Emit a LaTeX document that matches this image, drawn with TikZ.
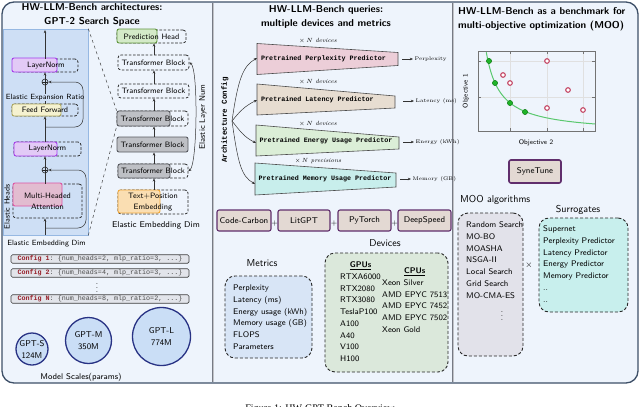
\documentclass[tikz,border=0pt]{standalone}
\usepackage{fontspec}
\setmonofont{Liberation Mono}
\newfontfamily\capfont{Liberation Serif}
\usetikzlibrary{arrows.meta}

% colours
\definecolor{panelbg}{RGB}{238,244,252}
\definecolor{framecol}{RGB}{62,80,104}
\definecolor{splitcol}{RGB}{118,122,132}
\definecolor{archbg}{RGB}{206,223,245}
\definecolor{archline}{RGB}{150,184,226}
\definecolor{lnline}{RGB}{165,60,235}
\definecolor{lnfill}{RGB}{226,202,246}
\definecolor{ffline}{RGB}{172,166,92}
\definecolor{fffill}{RGB}{245,242,208}
\definecolor{mhaline}{RGB}{222,84,164}
\definecolor{mhafill}{RGB}{226,188,208}
\definecolor{headline}{RGB}{96,150,62}
\definecolor{headfill}{RGB}{212,234,200}
\definecolor{tbline}{RGB}{88,90,96}
\definecolor{tbfill}{RGB}{190,192,197}
\definecolor{embline}{RGB}{240,168,58}
\definecolor{embfill}{RGB}{250,222,178}
\definecolor{cfgfill}{RGB}{226,228,234}
\definecolor{cfgred}{RGB}{150,30,40}
\definecolor{scaleline}{RGB}{40,50,132}
\definecolor{scalefill}{RGB}{202,222,246}
\definecolor{pplfill}{RGB}{236,206,216}
\definecolor{latfill}{RGB}{231,221,209}
\definecolor{engfill}{RGB}{219,238,215}
\definecolor{memfill}{RGB}{200,238,236}
\definecolor{toolline}{RGB}{96,46,108}
\definecolor{toolfill}{RGB}{227,217,211}
\definecolor{metfill}{RGB}{216,229,246}
\definecolor{devfill}{RGB}{219,232,219}
\definecolor{moofill}{RGB}{226,226,234}
\definecolor{surfill}{RGB}{200,239,237}
\definecolor{paretogreen}{RGB}{30,180,40}
\definecolor{curvegreen}{RGB}{90,200,110}
\definecolor{ringred}{RGB}{196,70,100}

\begin{document}
\begin{tikzpicture}[x=1pt, y=-1pt,
		every node/.style={inner sep=0pt, font=\sffamily\fontsize{7.8}{9.4}\selectfont},
		flow/.style={-{Stealth[length=3.2pt,width=2.6pt]}, line width=0.5pt, draw=black!80},
		elastic/.style={draw=black!85, line width=0.75pt, dash pattern=on 2.6pt off 1.6pt, rounded corners=3pt},
		solidbox/.style={line width=0.9pt, rounded corners=2pt},
		addnode/.style={circle, draw=black!85, fill=archbg, line width=0.6pt, minimum size=6pt,
			path picture={\draw[line width=0.5pt] (path picture bounding box.north) -- (path picture bounding box.south)
				(path picture bounding box.west) -- (path picture bounding box.east);}},
		paneltitle/.style={font=\sffamily\bfseries\fontsize{10}{14}\selectfont, align=center},
		smalltxt/.style={font=\sffamily\fontsize{7.5}{9}\selectfont},
		headtxt/.style={font=\sffamily\fontsize{10}{12}\selectfont},
		listtext/.style={font=\sffamily\fontsize{8.2}{11.7}\selectfont},
		cfgline/.style={draw=black!75, fill=cfgfill, line width=0.7pt, rounded corners=1.5pt, minimum width=178pt,
			minimum height=8.5pt, text=black!70, font=\ttfamily\fontsize{6.7}{8}\selectfont},
		sizecircle/.style={circle, draw=scaleline, fill=scalefill, line width=1.3pt, align=center,
			font=\sffamily\fontsize{8.5}{12}\selectfont},
		predictor/.style={draw=black!70, line width=0.6pt},
		predtxt/.style={anchor=west, font=\ttfamily\bfseries\fontsize{6.7}{8}\selectfont},
		devtxt/.style={font=\rmfamily\itshape\fontsize{6}{7}\selectfont},
		outtxt/.style={anchor=west, inner sep=1.5pt, font=\rmfamily\fontsize{5.2}{6.2}\selectfont},
		toolbox/.style={draw=toolline, fill=toolfill, line width=1.1pt, rounded corners=2pt, minimum height=21pt,
			font=\sffamily\fontsize{8.4}{10}\selectfont},
		listbox/.style={draw=black!85, line width=0.9pt, dash pattern=on 3pt off 2pt, rounded corners=10pt}
		]
		\path[use as bounding box] (0,0) rectangle (640,407);
		\clip (0,0) rectangle (640,407);
		% frame and panel splits
		\draw[draw=framecol, fill=panelbg, line width=1.3pt, rounded corners=12pt] (2,2) rectangle (638,383);
		\draw[draw=splitcol, double=splitcol!45, double distance=0.9pt, line width=0.7pt] (213,2.6) -- (213,382.4);
		\draw[draw=splitcol, double=splitcol!45, double distance=0.9pt, line width=0.7pt] (453,2.6) -- (453,382.4);
		
		% ---------------- architectures ----------------
		\node[paneltitle] (archtitle) at (92,15) {HW-LLM-Bench architectures:\\GPT-2 Search Space};
		\node[fill=archbg, draw=archline, line width=0.6pt, minimum width=85, minimum height=206] (archzoom) at (45.5,132) {};
		% inside one block
		\node[elastic, minimum width=64, minimum height=13] (ln1e) at (46,65.5) {};
		\node[solidbox, draw=lnline, fill=lnfill, minimum width=45, minimum height=14] (ln1) at (34.5,65) {};
		\node (ln1t) at (ln1e) {LayerNorm};
		\node[addnode] (add1) at (45,82) {};
		\node[elastic, minimum width=66, minimum height=12] (ffe) at (45,110) {};
		\node[solidbox, draw=ffline, fill=fffill, minimum width=49, minimum height=12] (ff) at (36.5,110) {};
		\node (fft) at (ffe) {Feed Forward};
		\node[elastic, minimum width=67, minimum height=14] (ln2e) at (47.5,149) {};
		\node[solidbox, draw=lnline, fill=lnfill, minimum width=43, minimum height=14] (ln2) at (35.5,149) {};
		\node (ln2t) at (ln2e) {LayerNorm};
		\node[addnode] (add2) at (45,170) {};
		\node[elastic, minimum width=69, minimum height=34] (mhae) at (47.5,201) {};
		\node[solidbox, draw=mhaline, fill=mhafill, minimum width=49, minimum height=23] (mha) at (37.5,194.5) {};
		\node[align=center, font=\sffamily\fontsize{7.8}{11}\selectfont] (mhat) at (mhae) {Multi-Headed\\Attention};
		\node[smalltxt, rotate=90] (headslbl) at (7,207) {Elastic Heads};
		\coordinate (archin) at (45,235);
		\coordinate (archout) at (45,30);
		\coordinate (res1) at (45,127);
		\coordinate (res2) at (45,228);
		\draw[flow] (archin) -- (archin |- mhae.south);
		\draw[line width=0.5pt, black!80] (add2 |- mhae.north) -- (add2);
		\draw[flow] (add2) -- (add2 |- ln2e.south);
		\draw[flow] (add2 |- ln2e.north) -- (add2 |- ffe.south);
		\draw[line width=0.5pt, black!80] (add1 |- ffe.north) -- (add1);
		\node[smalltxt, fill=archbg, inner sep=0.6pt] (ratiolbl) at (45,97.5) {Elastic Expansion Ratio};
		\draw[flow] (add1) -- (add1 |- ln1e.south);
		\draw[flow] (add1 |- ln1e.north) -- (archout);
		\draw[flow, rounded corners=8pt] (res1) -- ++(38,0) |- (add1.east);
		\draw[flow, rounded corners=8pt] (res2) -- ++(41,0) |- (add2.east);
		\node[smalltxt] (embdimleft) at (46.5,244) {Elastic Embedding Dim};
		
		% stack of blocks
		\node[elastic, minimum width=69, minimum height=13] (heade) at (151.5,36.5) {};
		\node[solidbox, draw=headline, fill=headfill, minimum width=40, minimum height=14] (head) at (137,36) {};
		\node (headt) at (heade) {Prediction Head};
		\node[elastic, minimum width=71, minimum height=15] (tb1e) at (153.5,62.5) {Transformer Block};
		\node[elastic, minimum width=71, minimum height=14] (tb2e) at (153.5,91) {Transformer Block};
		\node[elastic, minimum width=71, minimum height=15] (tb3e) at (152.5,118.5) {};
		\node[solidbox, draw=tbline, fill=tbfill, minimum width=53, minimum height=15] (tb3) at (143.5,118.5) {};
		\node (tb3t) at (tb3e) {Transformer Block};
		\node[solidbox, draw=tbline, fill=tbfill, minimum width=71, minimum height=15] (tb4) at (152.5,144.5) {Transformer Block};
		\node[elastic, minimum width=70, minimum height=14] (tb5e) at (153,171) {};
		\node[solidbox, draw=tbline, fill=tbfill, minimum width=52, minimum height=14] (tb5) at (144,171) {};
		\node (tb5t) at (tb5e) {Transformer Block};
		\node[elastic, minimum width=70, minimum height=24] (embe) at (153,202) {};
		\node[solidbox, draw=embline, fill=embfill, minimum width=42, minimum height=23] (emb) at (139,201.5) {};
		\node[align=center, font=\sffamily\fontsize{7.8}{11}\selectfont] (embt) at (embe) {Text+Position\\Embedding};
		\node[font=\sffamily\fontsize{8.4}{10}\selectfont] (embdim) at (156,225) {Elastic Embedding Dim};
		\node[font=\sffamily\fontsize{8}{10}\selectfont, rotate=90] (layerlbl) at (203,117) {Elastic Layer Num};
		\coordinate (spine) at (154,0);
		\draw[flow] (embe.north -| spine) -- (spine |- tb5e.south);
		\draw[flow] (tb5e.north -| spine) -- (spine |- tb4.south);
		\draw[flow] (tb4.north -| spine) -- (spine |- tb3e.south);
		\draw[flow] (tb3e.north -| spine) -- (spine |- tb2e.south);
		\draw[flow] (tb2e.north -| spine) -- (spine |- tb1e.south);
		\draw[flow] (tb1e.north -| spine) -- (spine |- heade.south);
		\draw[{Stealth[length=3pt,width=2.6pt]}-{Stealth[length=3pt,width=2.6pt]}, line width=0.5pt, black!80]
			(tb1e.east) .. controls +(9,6) and +(9,-6) .. (tb5e.east);
		% zoom lines
		\draw[dashed, line width=0.5pt, black!75] (archzoom.north east) -- (tb3e.north west);
		\draw[dashed, line width=0.5pt, black!75] (archzoom.south east) -- (tb3e.south west);
		
		% configs
		\node[cfgline] (cfg1) at (100,259) {{\bfseries\color{cfgred}Config 1}: \{num\_heads=2, mlp\_ratio=3, ...\}};
		\node[cfgline] (cfg2) at (100,273) {{\bfseries\color{cfgred}Config 2}: \{num\_heads=4, mlp\_ratio=3, ...\}};
		\node (cfgdots) at (97,285) {$\vdots$};
		\node[cfgline] (cfgn) at (100,299) {{\bfseries\color{cfgred}Config N}: \{num\_heads=8, mlp\_ratio=2, ...\}};
		
		% model scales
		\node[sizecircle, minimum size=32] (gpts) at (32,349) {GPT-S\\124M};
		\node[sizecircle, minimum size=46] (gptm) at (88.5,340.5) {GPT-M\\350M};
		\node[sizecircle, minimum size=58] (gptl) at (161.5,336.5) {GPT-L\\774M};
		\node[font=\sffamily\fontsize{8.3}{10}\selectfont] (scalelbl) at (81,377) {Model Scales(params)};
		
		% ---------------- queries ----------------
		\node[paneltitle] (querytitle) at (326,17) {HW-LLM-Bench queries:\\multiple devices and metrics};
		\node[rotate=90, font=\ttfamily\bfseries\fontsize{7.5}{9}\selectfont] (cfglbl) at (225,120) {Architecture Config};
		\coordinate (cfgsrc) at (232,121);
		% Perplexity
		\draw[predictor, fill=pplfill] (257,43.5) -- (398,52.5) -- (398,65.5) -- (257,74.5) -- cycle;
		\node[predtxt] (pplt) at (261,59) {Pretrained Perplexity Predictor};
		\node[devtxt] (pplx) at (318,41) {$\times\,N$ devices};
		\coordinate (pplin) at (257,58);
		\coordinate (pplout) at (402,59);
		\node[outtxt] (pplres) at (413,59) {Perplexity};
		% Latency
		\draw[predictor, fill=latfill] (257,84) -- (395,96) -- (395,108) -- (257,115) -- cycle;
		\node[predtxt] (latt) at (261,99.5) {Pretrained Latency Predictor};
		\node[devtxt] (latx) at (318,82) {$\times\,N$ devices};
		\coordinate (latin) at (257,100);
		\coordinate (latout) at (403,101);
		\node[outtxt] (latres) at (414,101) {Latency (ms)};
		% Energy
		\draw[predictor, fill=engfill] (256,125) -- (399,137) -- (399,149) -- (256,156) -- cycle;
		\node[predtxt] (engt) at (259.5,140.5) {Pretrained Energy Usage Predictor};
		\node[devtxt] (engx) at (318,124) {$\times\,N$ devices};
		\coordinate (engin) at (256,143);
		\coordinate (engout) at (403,142);
		\node[outtxt] (engres) at (414,142) {Energy (kWh)};
		% Memory
		\draw[predictor, fill=memfill] (255,163) -- (396,173) -- (396,187) -- (255,195) -- cycle;
		\node[predtxt] (memt) at (258.5,179) {Pretrained Memory Usage Predictor};
		\node[devtxt] (memx) at (318,161) {$\times\,N$ precisions};
		\coordinate (memin) at (255,184);
		\coordinate (memout) at (400,179);
		\node[outtxt] (memres) at (411,179) {Memory (GB)};
		\draw[flow] (cfgsrc) .. controls +(6,-42) and +(-14,8) .. (pplin);
		\draw[flow] (cfgsrc) .. controls +(8,-10) and +(-12,6) .. (latin);
		\draw[flow] (cfgsrc) .. controls +(8,10) and +(-12,-6) .. (engin);
		\draw[flow] (cfgsrc) .. controls +(6,42) and +(-14,-8) .. (memin);
		\draw[flow] (pplout) -- (pplres.west);
		\draw[flow] (latout) -- (latres.west);
		\draw[flow] (engout) -- (engres.west);
		\draw[flow] (memout) -- (memres.west);
		
		% tools
		\node[toolbox, minimum width=54] (codecarbon) at (244,220.5) {Code-Carbon};
		\node[toolbox, minimum width=52] (litgpt) at (304,220.5) {LitGPT};
		\node[toolbox, minimum width=53] (pytorch) at (364.5,220.5) {PyTorch};
		\node[toolbox, minimum width=53] (deepspeed) at (424.5,220.5) {DeepSpeed};
		\node (join1) at (274.5,224) {+};
		\node (join2) at (334,224) {+};
		\node (join3) at (394.5,224) {+};
		
		% metrics and devices
		\node[headtxt] (metricslbl) at (262,263) {Metrics};
		\node[listbox, fill=metfill, minimum width=87, minimum height=82] (metricsbox) at (268.5,317) {};
		\node[listtext, anchor=base west] (metricslist) at (233,290.8) {\begin{tabular}[t]{@{}l@{}}
				Perplexity\\Latency (ms)\\Energy usage (kWh)\\Memory usage (GB)\\FLOPS\\Parameters\end{tabular}};
		\node[headtxt] (deviceslbl) at (385,243) {Devices};
		\node[listbox, fill=devfill, minimum width=123, minimum height=119] (devicesbox) at (386.5,312.5) {};
		\node[listtext, anchor=base west] (gpulist) at (340,267.8) {\begin{tabular}[t]{@{}l@{}}
				\multicolumn{1}{@{}c@{}}{\underline{\textbf{GPUs}}}\\RTXA6000\\RTX2080\\RTX3080\\TeslaP100\\A100\\A40\\V100\\H100\end{tabular}};
		\node[listtext, anchor=base west] (cpulist) at (382,273.8) {\begin{tabular}[t]{@{}l@{}}
				\multicolumn{1}{@{}c@{}}{\underline{\textbf{CPUs}}}\\Xeon Silver\\AMD EPYC 7513\\AMD EPYC 7452\\AMD EPYC 7502\\Xeon Gold\end{tabular}};
		
		% ---------------- MOO ----------------
		\node[paneltitle, align=left, anchor=west] (mootitle) at (458,19) {HW-LLM-Bench as a benchmark for\\multi-objective optimization (MOO)};
		% objective space
		\draw[black!12, line width=0.6pt] (510,51) -- (510,131) (547,51) -- (547,131) (583,51) -- (583,131)
			(478,61) -- (595,61) (478,97) -- (595,97);
		\draw[black!55, line width=0.5pt] (510,51) -- (510,54) (547,51) -- (547,54) (583,51) -- (583,54)
			(510,131) -- (510,128) (547,131) -- (547,128) (583,131) -- (583,128)
			(478,61) -- (481,61) (478,97) -- (481,97) (595,61) -- (592,61) (595,97) -- (592,97);
		\draw[black!55, line width=0.6pt] (478,51) rectangle (595,131);
		\draw[curvegreen, line width=1pt] plot[domain=486.3:595, samples=80, smooth] (\x, {133.4-1160/(\x-472)});
		\path[draw=ringred, fill=white, line width=1.1pt] (503,75) circle[radius=2.3] (510,83) circle[radius=2.3]
			(547,61) circle[radius=2.3] (568,90) circle[radius=2.3] (547,108) circle[radius=2.3] (583,110) circle[radius=2.3];
		\path[fill=paretogreen, draw=paretogreen!70!black, line width=0.5pt] (489,61) circle[radius=2.6]
			(495,83) circle[radius=2.6] (510,103) circle[radius=2.6] (525,112) circle[radius=2.6];
		\node[font=\sffamily\fontsize{6.8}{8}\selectfont, rotate=90] (obj1) at (466,91) {Objective 1};
		\node[font=\sffamily\fontsize{6.8}{8}\selectfont] (obj2) at (536,143) {Objective 2};
		\node[toolbox, line width=1.6pt, minimum width=52, minimum height=23] (synetune) at (535,171.5) {SyneTune};
		
		\node[headtxt, anchor=west] (moolbl) at (460,200) {MOO algorithms};
		\node[headtxt] (surlbl) at (578,210) {Surrogates};
		\node[listbox, fill=moofill, minimum width=65, minimum height=143] (moobox) at (490.5,284.5) {};
		\node[listtext, anchor=base west] (moolist) at (466,227.8) {\begin{tabular}[t]{@{}l@{}}
				Random Search\\MO-BO\\MOASHA\\NSGA-II\\Local Search\\Grid Search\\MO-CMA-ES\end{tabular}};
		\node (moodots) at (502,313) {$\vdots$};
		\node[font=\sffamily\fontsize{9}{10}\selectfont] (crossop) at (529,265) {$\times$};
		\node[listbox, fill=surfill, minimum width=89, minimum height=94] (surbox) at (583.5,265) {};
		\node[listtext, anchor=base west] (surlist) at (543,231.8) {\begin{tabular}[t]{@{}l@{}}
				Supernet\\Perplexity Predictor\\Latency Predictor\\Energy Predictor\\Memory Predictor\\..\\..\end{tabular}};
		
		% caption
		\node[font=\capfont\fontsize{10.1}{12}\selectfont, anchor=base] (caption) at (320,411) {Figure 1: HW-GPT-Bench Overview};
	\end{tikzpicture}
\end{document}
